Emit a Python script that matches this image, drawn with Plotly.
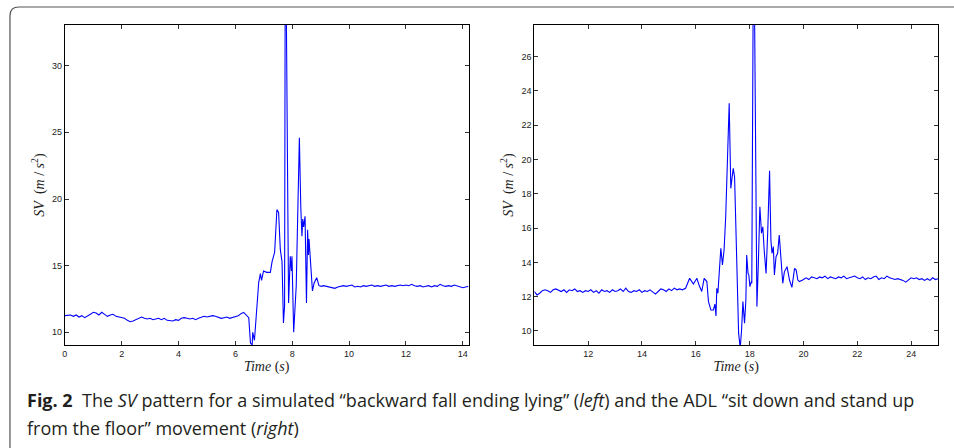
import plotly.graph_objects as go

# ---------------- data: left panel (backward fall ending lying) ----------------
left_t = [
    0.0, 0.1, 0.2, 0.3, 0.4, 0.5, 0.6, 0.7, 0.8, 0.9, 1.0, 1.1, 1.2, 1.3, 1.4, 1.5, 1.6, 1.7, 1.8, 1.9,
    2.0, 2.1, 2.2, 2.3, 2.4, 2.5, 2.6, 2.7, 2.8, 2.9, 3.0, 3.1, 3.2, 3.3, 3.4, 3.5, 3.6, 3.7, 3.8, 3.9,
    4.0, 4.1, 4.2, 4.3, 4.4, 4.5, 4.6, 4.7, 4.8, 4.9, 5.0, 5.1, 5.2, 5.3, 5.4, 5.5, 5.6, 5.7, 5.8, 5.9,
    6.0, 6.1, 6.2,
    6.29, 6.47, 6.53, 6.59, 6.61, 6.67, 6.82, 6.88, 6.92, 6.99, 7.1, 7.23, 7.29, 7.38, 7.46, 7.52, 7.58,
    7.64, 7.69, 7.73, 7.75, 7.79, 7.85, 7.87, 7.93, 7.97, 7.99, 8.02, 8.05, 8.14, 8.19, 8.25, 8.30, 8.34,
    8.37, 8.40, 8.45, 8.49, 8.50, 8.54, 8.57, 8.59, 8.65, 8.71, 8.77, 8.86, 8.94, 9.02,
    9.1, 9.2, 9.3, 9.4, 9.5, 9.6, 9.7, 9.8, 9.9, 10.0, 10.1, 10.2, 10.3, 10.4, 10.5, 10.6, 10.7, 10.8,
    10.9, 11.0, 11.1, 11.2, 11.3, 11.4, 11.5, 11.6, 11.7, 11.8, 11.9, 12.0, 12.1, 12.2, 12.3, 12.4, 12.5,
    12.6, 12.7, 12.8, 12.9, 13.0, 13.1, 13.2, 13.3, 13.4, 13.5, 13.6, 13.7, 13.8, 13.9, 14.0, 14.1, 14.2,
]
left_sv = [
    11.25, 11.25, 11.3, 11.2, 11.3, 11.15, 11.25, 11.1, 11.2, 11.35, 11.5, 11.45, 11.3, 11.5, 11.35, 11.2,
    11.3, 11.35, 11.2, 11.15, 11.1, 11.05, 10.9, 10.8, 10.85, 10.95, 11.05, 11.15, 11.05, 11.0, 11.05,
    10.95, 11.0, 11.05, 10.95, 11.05, 10.9, 10.9, 10.85, 10.95, 10.9, 11.05, 11.1, 11.05, 11.0, 11.05,
    10.95, 11.05, 11.1, 11.2, 11.15, 11.2, 11.25, 11.2, 11.15, 11.05, 11.1, 11.15, 11.05, 11.1, 11.15,
    11.25, 11.4,
    11.5, 11.1, 9.2, 9.05, 10.0, 9.4, 13.75, 14.4, 13.9, 14.6, 14.5, 14.5, 15.3, 16.0, 19.2, 19.0, 16.2,
    15.3, 10.7, 12.0, 34.5, 34.5, 12.5, 12.2, 15.7, 14.6, 15.7, 13.2, 10.0, 13.5, 19.1, 24.6, 19.4, 17.2,
    18.5, 17.9, 18.7, 14.2, 12.2, 17.7, 15.8, 17.0, 15.3, 13.1, 13.7, 14.1, 13.5, 13.45,
    13.5, 13.45, 13.4, 13.35, 13.3, 13.4, 13.45, 13.5, 13.45, 13.5, 13.55, 13.4, 13.45, 13.4, 13.5, 13.45,
    13.5, 13.55, 13.45, 13.5, 13.45, 13.5, 13.55, 13.45, 13.5, 13.45, 13.5, 13.55, 13.5, 13.55, 13.5,
    13.6, 13.5, 13.45, 13.5, 13.4, 13.45, 13.5, 13.4, 13.5, 13.45, 13.6, 13.5, 13.45, 13.5, 13.45, 13.55,
    13.5, 13.45, 13.35, 13.4, 13.45,
]

# ---------------- data: right panel (sit down and stand up from the floor) ----------------
right_t = [
    10.0, 10.1, 10.2, 10.3, 10.4, 10.5, 10.6, 10.7, 10.8, 10.9, 11.0, 11.1, 11.2, 11.3, 11.4, 11.5, 11.6,
    11.7, 11.8, 11.9, 12.0, 12.1, 12.2, 12.3, 12.4, 12.5, 12.6, 12.7, 12.8, 12.9, 13.0, 13.1, 13.2, 13.3,
    13.4, 13.5, 13.6, 13.7, 13.8, 13.9, 14.0, 14.1, 14.2, 14.3, 14.4, 14.5, 14.6, 14.7, 14.8, 14.9, 15.0,
    15.1, 15.2, 15.3, 15.4, 15.5,
    15.62, 15.77, 15.91, 16.04, 16.12, 16.22, 16.31, 16.41, 16.47, 16.56, 16.65, 16.71, 16.75, 16.78,
    16.82, 16.87, 16.93, 16.99, 17.05, 17.11, 17.17, 17.24, 17.30, 17.39, 17.44, 17.49, 17.55, 17.59,
    17.65, 17.70, 17.75, 17.81, 17.86, 17.89, 17.94, 17.97, 18.01, 18.06, 18.08, 18.13, 18.18, 18.23,
    18.27, 18.32, 18.38, 18.44, 18.49, 18.54, 18.61, 18.67, 18.74, 18.79, 18.83, 18.88, 18.92, 18.98,
    19.04, 19.10, 19.17, 19.23, 19.29, 19.39, 19.48, 19.57, 19.67, 19.73, 19.79, 19.85, 19.97,
    20.1, 20.2, 20.3, 20.4, 20.5, 20.6, 20.7, 20.8, 20.9, 21.0, 21.1, 21.2, 21.3, 21.4, 21.5, 21.6, 21.7,
    21.8, 21.9, 22.0, 22.1, 22.2, 22.3, 22.4, 22.5, 22.6, 22.7, 22.8, 22.9, 23.0, 23.1, 23.2, 23.3, 23.4,
    23.5, 23.6, 23.7, 23.8, 23.9, 24.0, 24.1, 24.2, 24.3, 24.4, 24.5, 24.6, 24.7, 24.8, 24.9, 25.0,
]
right_sv = [
    12.3, 12.1, 12.2, 12.35, 12.4, 12.35, 12.25, 12.4, 12.45, 12.35, 12.3, 12.4, 12.25, 12.4, 12.35, 12.45,
    12.3, 12.35, 12.25, 12.35, 12.3, 12.4, 12.25, 12.35, 12.2, 12.4, 12.3, 12.35, 12.25, 12.4, 12.3, 12.35,
    12.45, 12.3, 12.5, 12.3, 12.25, 12.35, 12.3, 12.4, 12.25, 12.35, 12.3, 12.4, 12.3, 12.15, 12.3, 12.45,
    12.4, 12.3, 12.45, 12.35, 12.5, 12.4, 12.45, 12.4,
    12.49, 13.07, 12.74, 13.07, 12.68, 12.3, 13.07, 12.88, 11.71, 11.22, 11.22, 11.57, 10.87, 12.49,
    12.2, 13.36, 14.82, 13.85, 14.72, 16.66, 19.58, 23.28, 18.32, 19.49, 19.0, 15.31, 11.81, 9.87,
    9.0, 10.06, 11.71, 10.45, 11.81, 14.43, 13.36, 13.26, 12.58, 12.88, 12.78, 29.0, 29.0, 16.66,
    11.42, 13.75, 17.25, 15.7, 16.08, 14.72, 13.36, 15.7, 19.35, 15.31, 14.53, 14.92, 13.26, 14.33,
    14.53, 15.6, 14.14, 12.78, 13.45, 13.75, 12.97, 12.54, 13.65, 13.55, 12.97, 12.88, 12.97,
    13.1, 13.0, 13.15, 13.1, 13.05, 13.15, 13.1, 13.2, 13.05, 13.15, 13.1, 13.05, 13.15, 13.1, 13.2, 13.05,
    13.1, 13.15, 13.2, 13.1, 13.05, 13.15, 13.0, 13.1, 13.05, 13.15, 13.2, 13.0, 13.1, 13.05, 13.2, 13.1,
    13.05, 13.0, 13.05, 13.0, 12.95, 12.85, 13.0, 13.1, 13.05, 13.1, 13.0, 13.05, 12.95, 13.05, 12.95,
    13.1, 13.0, 13.05,
]

left_xticks = [0, 2, 4, 6, 8, 10, 12, 14]
left_yticks = [10, 15, 20, 25, 30]
right_xticks = [12, 14, 16, 18, 20, 22, 24]
right_yticks = [10, 12, 14, 16, 18, 20, 22, 24, 26]

x_title = "<i>Time</i> (<i>s</i>)"
y_title = "<i>SV</i>  (<i>m</i> / <i>s</i><sup>2</sup>)"
caption_line1 = ("<b>Fig. 2</b>  The <i>SV</i> pattern for a simulated \u201cbackward fall ending lying\u201d "
                 "(<i>left</i>) and the ADL \u201csit down and stand up")
caption_line2 = "from the floor\u201d movement (<i>right</i>)"

W, H = 954, 448

fig = go.Figure()
fig.add_trace(go.Scatter(x=left_t, y=left_sv, mode="lines", line=dict(color="#0000ff", width=1.1),
                         xaxis="x", yaxis="y", showlegend=False))
fig.add_trace(go.Scatter(x=right_t, y=right_sv, mode="lines", line=dict(color="#0000ff", width=1.1),
                         xaxis="x2", yaxis="y2", showlegend=False))

tickfont = dict(family="Liberation Sans, Arial", size=9, color="#222")
titlefont = dict(family="Liberation Serif, DejaVu Serif, serif", size=14, color="#222")
common = dict(showline=True, linecolor="black", linewidth=1, mirror="ticks", ticks="inside",
              ticklen=4, tickcolor="#333", tickwidth=1, showgrid=False, zeroline=False,
              tickfont=tickfont, title_font=titlefont)

ydom = [(H - 345) / H, (H - 25) / H]
fig.update_layout(
    width=W, height=H, margin=dict(l=0, r=0, t=0, b=0),
    paper_bgcolor="white", plot_bgcolor="white",
    xaxis=dict(domain=[62 / W, 467 / W], range=[0, 14.2], tickvals=left_xticks,
               title=dict(text=x_title, standoff=0), anchor="y", **common),
    yaxis=dict(domain=ydom, range=[9.05, 33.05], tickvals=left_yticks,
               title=dict(text=y_title, standoff=4), anchor="x", **common),
    xaxis2=dict(domain=[533 / W, 938 / W], range=[10, 25], tickvals=right_xticks,
                title=dict(text=x_title, standoff=0), anchor="y2", **common),
    yaxis2=dict(domain=ydom, range=[9.18, 27.85], tickvals=right_yticks,
                title=dict(text=y_title, standoff=4), anchor="x2", **common),
)

# rounded frame around the figure
x0, y0, r = 7 / W, 1 - 7 / H, 9
path = (f"M {x0},-0.01 L {x0},{1 - (7 + r) / H} Q {x0},{y0} {(7 + r) / W},{y0} L 1.01,{y0}")
fig.add_shape(type="path", path=path, xref="paper", yref="paper",
              line=dict(color="#555", width=1.2))

capfont = dict(family="Open Sans, Noto Sans, sans-serif", size=18, color="#231f20")
fig.add_annotation(text=caption_line1, x=22 / W, y=1 - 400 / H, xref="paper", yref="paper",
                   xanchor="left", yanchor="middle", showarrow=False, font=capfont)
fig.add_annotation(text=caption_line2, x=22 / W, y=1 - 428 / H, xref="paper", yref="paper",
                   xanchor="left", yanchor="middle", showarrow=False, font=capfont)

fig.write_html("out.html", config={"displayModeBar": False},
               post_script="document.body.style.margin='0';document.body.style.overflow='hidden';")
